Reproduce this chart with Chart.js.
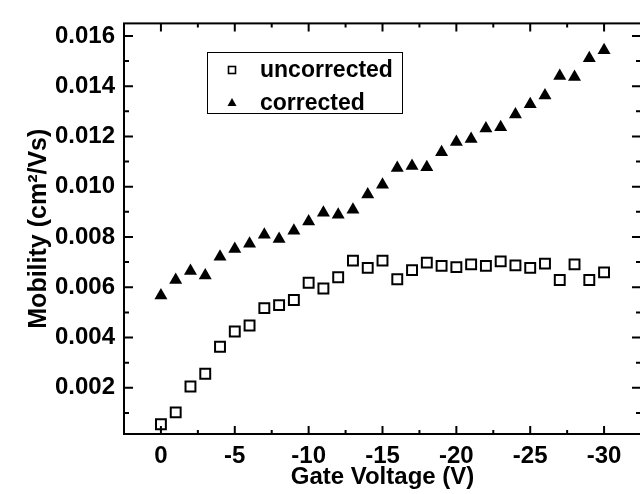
<!DOCTYPE html>
<html>
<head>
<meta charset="utf-8">
<script src="https://cdn.jsdelivr.net/npm/chart.js@4/dist/chart.umd.min.js"></script>
<style>
  html, body { margin: 0; padding: 0; background: #fff; overflow: hidden; }
  #wrap { width: 640px; height: 494px; overflow: hidden; }
  canvas { display: block; }
</style>
</head>
<body>
<div id="wrap"><canvas id="c" width="650" height="494"></canvas></div>
<script>
// Gate voltage sweep (V)
const gateVoltage = [0, -1, -2, -3, -4, -5, -6, -7, -8, -9, -10, -11, -12, -13, -14, -15,
  -16, -17, -18, -19, -20, -21, -22, -23, -24, -25, -26, -27, -28, -29, -30];

// Field-effect mobility (cm^2/Vs)
const uncorrected = [0.00055, 0.00102, 0.00205, 0.00256, 0.00363, 0.00424, 0.00448, 0.00517,
  0.00529, 0.00549, 0.00618, 0.00595, 0.00640, 0.00706, 0.00677, 0.00706, 0.00632, 0.00668,
  0.00698, 0.00685, 0.00680, 0.00691, 0.00685, 0.00703, 0.00687, 0.00677, 0.00694, 0.00629,
  0.00691, 0.00629, 0.00659];
const corrected = [0.00567, 0.00629, 0.00665, 0.00647, 0.00721, 0.00752, 0.00773, 0.00809,
  0.00792, 0.00825, 0.00862, 0.00896, 0.00889, 0.00908, 0.00969, 0.01008, 0.01075, 0.01083,
  0.01078, 0.01137, 0.01178, 0.01190, 0.01232, 0.01237, 0.01287, 0.01328, 0.01363, 0.01441,
  0.01437, 0.01511, 0.01543];

// Labelled axis ticks
const xTicks = [0, -5, -10, -15, -20, -25, -30];
const yTicks = [0.002, 0.004, 0.006, 0.008, 0.010, 0.012, 0.014, 0.016];

const seriesNames = ['uncorrected', 'corrected'];

const FONT = '"Liberation Sans", Arial, Helvetica, sans-serif';

const toPoints = vals => gateVoltage.map((v, i) => ({ x: v, y: vals[i] }));

// Box frame with inward major/minor ticks on all four sides, plus inset legend
const framePlugin = {
  id: 'frame',
  afterDraw(chart) {
    const { ctx, chartArea: a, scales: { x, y } } = chart;
    ctx.save();
    ctx.strokeStyle = '#000';
    ctx.lineWidth = 2;
    ctx.lineCap = 'butt';
    ctx.strokeRect(a.left, a.top, a.right - a.left, a.bottom - a.top);

    ctx.beginPath();
    // x ticks every 2.5 V, major every 5 V
    for (let k = 0; ; k++) {
      const v = x.max - k * 2.5;
      if (v < x.min - 1e-9) break;
      const px = x.getPixelForValue(v);
      const len = (Math.abs(v % 5) < 1e-9) ? 8 : 4;
      ctx.moveTo(px, a.bottom); ctx.lineTo(px, a.bottom - len);
      ctx.moveTo(px, a.top); ctx.lineTo(px, a.top + len);
    }
    // y ticks every 0.001, major every 0.002
    for (let k = 1; k <= 16; k++) {
      const v = k * 0.001;
      if (v > y.max) break;
      const py = y.getPixelForValue(v);
      const len = (k % 2 === 0) ? 9 : 5;
      ctx.moveTo(a.left, py); ctx.lineTo(a.left + len, py);
      ctx.moveTo(a.right, py); ctx.lineTo(a.right - len, py);
    }
    ctx.stroke();

    // legend box
    const bx = 207, by = 52, bw = 195, bh = 61;
    ctx.lineWidth = 1;
    ctx.strokeRect(bx + 0.5, by + 0.5, bw, bh);
    ctx.font = 'bold 23px ' + FONT;
    ctx.fillStyle = '#000';
    ctx.textBaseline = 'middle';
    ctx.textAlign = 'left';
    chart.data.datasets.forEach((ds, i) => {
      const cy = by + 18 + i * 33;
      const cx = bx + 25;
      if (ds.pointStyle === 'rect') {
        ctx.lineWidth = 1.6;
        ctx.fillStyle = '#fff';
        ctx.fillRect(cx - 3.5, cy - 3.5, 7, 7);
        ctx.strokeRect(cx - 3.5, cy - 3.5, 7, 7);
      } else {
        ctx.fillStyle = '#000';
        ctx.beginPath();
        ctx.moveTo(cx, cy - 5);
        ctx.lineTo(cx + 4.5, cy + 3);
        ctx.lineTo(cx - 4.5, cy + 3);
        ctx.closePath();
        ctx.fill();
      }
      ctx.fillStyle = '#000';
      ctx.fillText(ds.label, bx + 53, cy + 1);
    });
    ctx.restore();
  }
};

new Chart(document.getElementById('c'), {
  type: 'scatter',
  data: {
    datasets: [
      {
        label: seriesNames[0],
        data: toPoints(uncorrected),
        pointStyle: 'rect',
        pointRadius: 7,
        pointHoverRadius: 7,
        pointBorderWidth: 2,
        borderColor: '#000',
        backgroundColor: '#fff'
      },
      {
        label: seriesNames[1],
        data: toPoints(corrected),
        pointStyle: 'triangle',
        pointRadius: 7.5,
        pointHoverRadius: 7.5,
        pointBorderWidth: 0,
        borderColor: '#000',
        backgroundColor: '#000'
      }
    ]
  },
  options: {
    responsive: false,
    animation: false,
    devicePixelRatio: 1,
    layout: { padding: { top: 10, right: 4.5, bottom: 0, left: 0 } },
    plugins: {
      legend: { display: false },
      tooltip: { enabled: false }
    },
    scales: {
      x: {
        type: 'linear',
        reverse: true,
        min: -32.5,
        max: 2.5,
        grid: { display: false, drawTicks: false },
        border: { display: false },
        afterBuildTicks: s => { s.ticks = xTicks.map(v => ({ value: v })); },
        afterFit: s => { s.height = 60; },
        ticks: {
          autoSkip: false,
          maxRotation: 0,
          padding: 8,
          color: '#000',
          font: { family: FONT, size: 24, weight: 'bold' },
          callback: v => String(v)
        },
        title: {
          display: true,
          text: 'Gate Voltage (V)',
          color: '#000',
          padding: { top: 0, bottom: 2 },
          font: { family: FONT, size: 24, weight: 'bold' }
        }
      },
      y: {
        type: 'linear',
        min: 0.00016,
        max: 0.0165,
        grid: { display: false, drawTicks: false },
        border: { display: false },
        afterBuildTicks: s => { s.ticks = yTicks.map(v => ({ value: v })); },
        afterFit: s => { s.width = 124; },
        ticks: {
          autoSkip: false,
          padding: 9,
          color: '#000',
          font: { family: FONT, size: 24, weight: 'bold' },
          callback: v => Number(v).toFixed(3)
        },
        title: {
          display: true,
          text: 'Mobility (cm²/Vs)',
          color: '#000',
          padding: { top: 24, bottom: 0 },
          font: { family: FONT, size: 25, weight: 'bold' }
        }
      }
    }
  },
  plugins: [framePlugin]
});
</script>
</body>
</html>
